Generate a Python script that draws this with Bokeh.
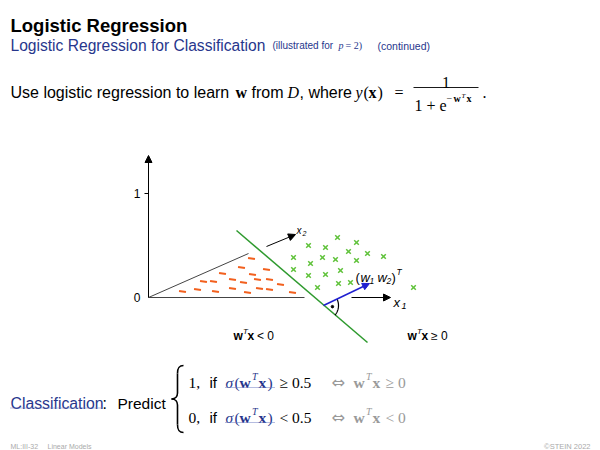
from bokeh.plotting import figure
from bokeh.models import Range1d, Arrow, NormalHead
from bokeh.core.properties import value
from bokeh.embed import file_html
from bokeh.resources import INLINE
import numpy as np

# ---------------- data (diagram coordinates, px-like units) ----------------
tick_values = [297, 193]
tick_labels = ["0", "1"]

neg_x = [251, 241, 266, 222, 252, 203, 213, 232, 243, 257, 269, 182, 197, 215, 232, 247, 259, 269, 280, 292]
neg_y = [258, 267, 269, 273, 274, 281, 281, 279, 282, 279, 279, 291, 289, 291, 288, 292, 288, 289, 284, 292]

pos_x = [337, 356, 308, 325, 348, 367, 383, 293, 322, 335, 356, 310, 293, 325, 340, 308, 317, 338, 350, 413]
pos_y = [237, 242, 245, 247, 251, 253, 256, 257, 257, 259, 260, 263, 269, 274, 270, 275, 287, 283, 282, 287]

origin = (148, 297)
x1_end, x1_arrow = 304, (351, 390)
x2_end, x2_arrow = (248, 253), ((266, 246), (295, 234))
y_top = 155
boundary = ((236, 230), (367, 342))
w_vec = ((323, 305), (369, 283))

NAVY = "#27368c"
GRAY = "#9a9a9a"
SANS = "Liberation Sans"
SERIF = "Liberation Serif"

p = figure(width=600, height=450, output_backend="svg", toolbar_location=None,
           x_range=Range1d(0, 600), y_range=Range1d(450, 0), min_border=0)
p.axis.visible = False
p.grid.visible = False
p.outline_line_color = None


def txt(x, y, s, size, font=SANS, style="normal", color="black", align="left", baseline="alphabetic"):
    p.text(x=[x], y=[y], text=[s], text_font=value(font), text_font_size=value(f"{size}px"),
           text_font_style=value(style), text_color=color, text_align=align, text_baseline=baseline)


def arrow(x0, y0, x1, y1, color="black", w=1.0, size=7):
    p.add_layout(Arrow(x_start=x0, y_start=y0, x_end=x1, y_end=y1, line_color=color, line_width=w,
                       end=NormalHead(size=size, fill_color=color, line_color=color, line_width=1)))


# ---------------- header ----------------
txt(10, 25, "Logistic Regression", 18.5, style="bold")
txt(10, 45, "Logistic Regression for Classification", 15.6, color=NAVY)
txt(272, 45, "(illustrated for", 10, color=NAVY)
txt(338, 45, "p", 10, font=SERIF, style="italic", color=NAVY)
txt(345, 45, "= 2)", 10, font=SERIF, color=NAVY)
txt(377, 45, "(continued)", 10.5, color=NAVY)

# ---------------- equation line ----------------
BL = 92
txt(10, BL, "Use logistic regression to learn", 16)
txt(235, BL, "w", 16, font=SERIF, style="bold")
txt(251, BL, "from", 16)
txt(287, BL, "D", 16, font=SERIF, style="italic")
txt(299, BL, ", where", 16)
txt(355, BL, "y", 16, font=SERIF, style="italic")
txt(363, BL, "(", 16, font=SERIF)
txt(368, BL, "x", 16, font=SERIF, style="bold")
txt(377, BL, ")", 16, font=SERIF)
txt(394, BL, "=", 16, font=SERIF)
p.segment(x0=[413], y0=[87], x1=[478], y1=[87], line_color="black", line_width=0.9)
txt(445.5, 82, "1", 16, font=SERIF, align="center")
txt(414, 105, "1 + e", 16, font=SERIF)
txt(446, 98, "\u2212", 10, font=SERIF)
txt(453, 98, "w", 10, font=SERIF, style="bold")
txt(461, 95, "T", 7, font=SERIF, style="italic")
txt(466, 98, "x", 10, font=SERIF, style="bold")
txt(482, BL, ".", 16, font=SERIF)

# ---------------- diagram ----------------
ox, oy = origin
arrow(ox, oy, ox, y_top)
p.segment(x0=[ox - 4], y0=[tick_values[1]], x1=[ox], y1=[tick_values[1]], line_color="black", line_width=1)
p.text(x=[ox - 8] * 2, y=tick_values, text=tick_labels, text_font=value(SANS), text_font_size=value("12px"),
       text_align="right", text_baseline="middle")

# x1 axis
p.segment(x0=[ox], y0=[oy], x1=[x1_end], y1=[oy], line_color="#444444", line_width=1)
arrow(x1_arrow[0], oy, x1_arrow[1], oy)
txt(393, 302, "x", 13, style="italic")
txt(401, 305, "1", 9, style="italic")
# x2 axis
p.segment(x0=[ox], y0=[oy], x1=[x2_end[0]], y1=[x2_end[1]], line_color="#444444", line_width=1)
arrow(x2_arrow[0][0], x2_arrow[0][1], x2_arrow[1][0], x2_arrow[1][1])
txt(296, 230, "x", 10, style="italic")
txt(302, 233, "2", 7, style="italic")

# classes
p.scatter(x=neg_x, y=neg_y, marker="dash", size=7, angle=-0.15, line_color="#f2601e", line_width=2)
p.scatter(x=pos_x, y=pos_y, marker="x", size=6.5, line_color="#5fc23a", line_width=1.5)

# decision boundary
p.segment(x0=[boundary[0][0]], y0=[boundary[0][1]], x1=[boundary[1][0]], y1=[boundary[1][1]],
          line_color="#2e9a2e", line_width=1.5)
# weight vector
arrow(w_vec[0][0], w_vec[0][1], w_vec[1][0], w_vec[1][1], color="#1f1fd0", w=1.5, size=7)

# right-angle mark
fx, fy = w_vec[0]
a1 = np.arctan2(w_vec[1][1] - fy, w_vec[1][0] - fx)
a2 = np.arctan2(boundary[1][1] - fy, boundary[1][0] - fx)
t = np.linspace(a1, a2, 30)
p.line(x=fx + 15 * np.cos(t), y=fy + 15 * np.sin(t), line_color="black", line_width=1.2)
am = (a1 + a2) / 2
p.scatter(x=[fx + 9 * np.cos(am)], y=[fy + 9 * np.sin(am)], size=2.5, color="black")

# (w1 w2)^T label
txt(355, 277, "(", 13)
txt(360, 277, "w", 13, style="italic")
txt(369, 280, "1", 8.5, style="italic")
txt(377, 277, "w", 13, style="italic")
txt(386, 280, "2", 8.5, style="italic")
txt(391, 277, ")", 13)
txt(396, 271, "T", 8.5, style="italic")

# region labels
for x0, rel in ((233, "< 0"), (407, "\u2265 0")):
    txt(x0, 335, "w", 12, style="bold")
    txt(x0 + 9.5, 331, "T", 8, style="italic")
    txt(x0 + 14, 335, "x", 12, style="bold")
    txt(x0 + 23.5, 335, rel, 12)

# ---------------- classification rule ----------------
txt(10, 403, "Classification", 15.8, color=NAVY)
p.segment(x0=[10], y0=[407.5], x1=[102], y1=[407.5], line_color="#6a78c0", line_width=1, line_dash="1 1")
txt(102, 403, ":", 15.8)
txt(117, 403, "Predict", 15.5)

# brace
bx0, bx1, by0, by1 = 171, 183, 365, 432
bm = (by0 + by1) / 2
bc = (bx0 + bx1) / 2
p.bezier(x0=[bx1, bc, bx0, bc], y0=[by0, bm - 6, bm, by1 - 8],
         x1=[bc, bx0, bc, bx1], y1=[by0 + 8, bm, bm + 6, by1],
         cx0=[bc + 1, bc, bc - 2, bc], cy0=[by0, bm - 3, bm, by1 - 3],
         cx1=[bc, bc - 2, bc, bc + 1], cy1=[by0 + 3, bm, bm + 3, by1],
         line_color="black", line_width=1.6)
p.segment(x0=[bc, bc], y0=[by0 + 8, bm + 6], x1=[bc, bc], y1=[bm - 6, by1 - 8],
          line_color="black", line_width=1.6)

for yb, val, rel in ((382, "1,", "\u2265 0.5"), (417, "0,", "< 0.5")):
    txt(188, yb, val, 15.5, font=SERIF)
    txt(209, yb, "if", 15)
    txt(225, yb, "\u03c3", 15.5, font=SERIF, style="italic", color=NAVY)
    txt(234, yb, "(", 15.5, font=SERIF, color=NAVY)
    txt(239, yb, "w", 15.5, font=SERIF, style="bold", color=NAVY)
    txt(251.5, yb - 6, "T", 10, font=SERIF, style="italic", color=NAVY)
    txt(258, yb, "x", 15.5, font=SERIF, style="bold", color=NAVY)
    txt(267, yb, ")", 15.5, font=SERIF, color=NAVY)
    p.segment(x0=[225], y0=[yb + 5], x1=[275], y1=[yb + 5], line_color="#6a78c0", line_width=1, line_dash="1 1")
    txt(279, yb, rel, 15.5, font=SERIF)
    txt(331, yb, "\u21d4", 16, font="DejaVu Sans", color=GRAY)
    txt(353, yb, "w", 15.5, font=SERIF, style="bold", color=GRAY)
    txt(365.5, yb - 6, "T", 10, font=SERIF, style="italic", color=GRAY)
    txt(372, yb, "x", 15.5, font=SERIF, style="bold", color=GRAY)
    txt(385, yb, rel[:1] + " 0", 15.5, font=SERIF, color=GRAY)

# ---------------- footer ----------------
txt(10, 446, "ML:III-32", 7, color="#aaaaaa")
txt(47, 446, "Linear Models", 7, color="#aaaaaa")
txt(590, 446, "\u00a9STEIN 2022", 7.5, color="#aaaaaa", align="right")

open("out.html", "w").write(file_html(p, INLINE))
